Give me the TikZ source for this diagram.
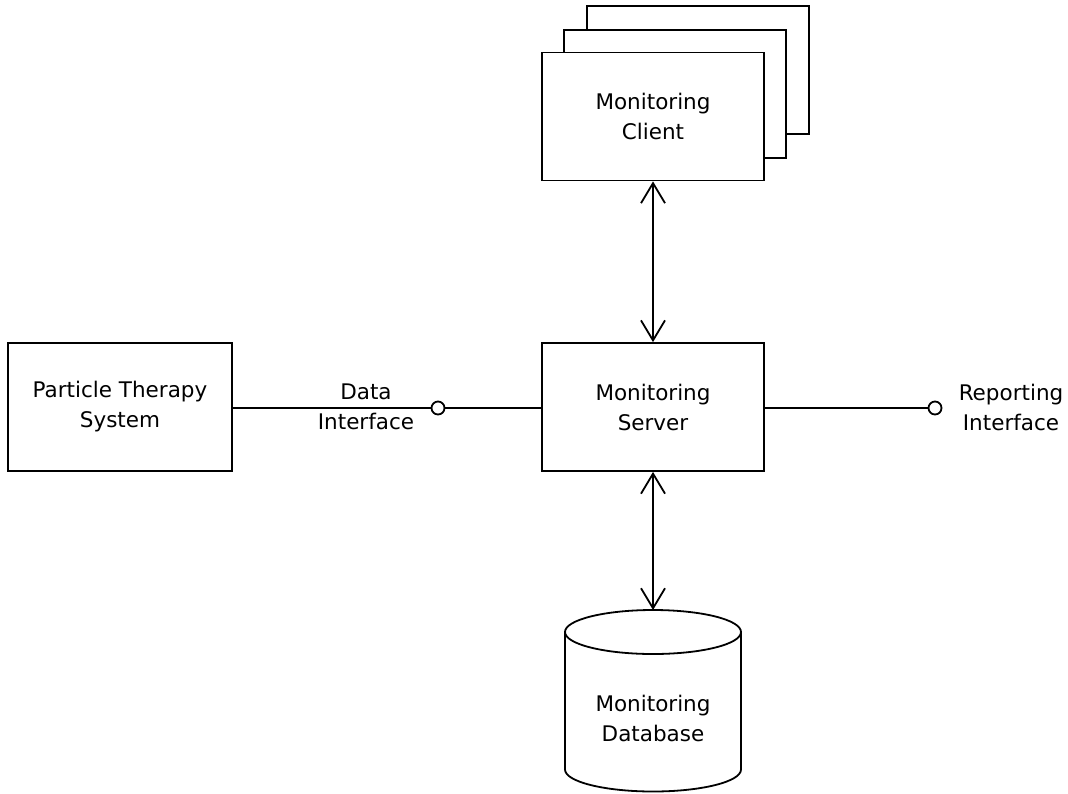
\documentclass[tikz,border=0pt]{standalone}
\usepackage{fontspec}
\setmainfont{DejaVu Sans}
\usetikzlibrary{arrows.meta}
\begin{document}
\begin{tikzpicture}[x=1pt,y=-1pt,
  line width=1.8pt,
  every node/.style={font=\fontsize{21.5}{30}\selectfont, align=center},
  comp/.style={draw, fill=white, minimum width=222pt, minimum height=128pt, inner sep=0pt},
  iface/.style={draw, circle, fill=white, minimum size=13pt, inner sep=0pt},
  dual/.style={{Straight Barb[length=20pt,width=24pt]}-{Straight Barb[length=20pt,width=24pt]}}
]
\useasboundingbox (0,0) rectangle (1068,793);

% stacked client instances (back to front)
\node[comp] (clientc) at (698,70) {};
\node[comp] (clientb) at (675,94) {};
\node[comp] (client) at (653,116.5) {Monitoring\\Client};

% main components
\node[comp, minimum width=224pt] (pts) at (120,407) {Particle Therapy\\System};
\node[comp] (server) at (653,407) {Monitoring\\Server};

% provided interfaces
\node[iface] (dataif) at (438,408) {};
\node[iface] (repif) at (935,408) {};
\node (datalbl) at (366,407) {Data\\Interface};
\node (replbl) at (1011,407) {Reporting\\Interface};

\draw (pts.east |- dataif) -- (dataif);
\draw (dataif) -- (server.west |- dataif);
\draw (server.east |- repif) -- (repif);

% database cylinder
\coordinate (dbtop) at (653,610);
\draw (653,632) ellipse [x radius=88, y radius=22];
\draw (565,632) -- (565,769.5) arc[start angle=180, end angle=0, x radius=88, y radius=22] -- (741,632);
\node (db) at (653,718) {Monitoring\\Database};

% bidirectional links
\draw[dual] (client.south) -- (server.north);
\draw[dual] (server.south) -- (dbtop);
\end{tikzpicture}
\end{document}
